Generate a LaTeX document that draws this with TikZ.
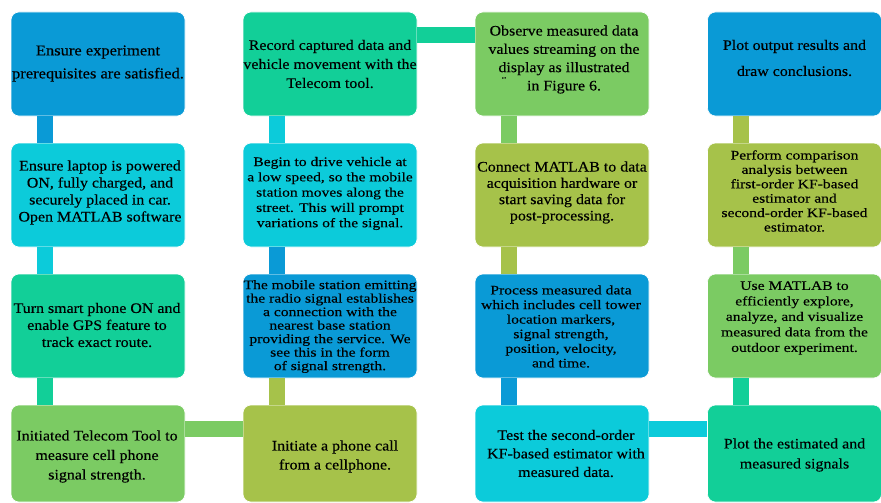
\documentclass[tikz,border=0pt]{standalone}
\usepackage{fontspec}
\setmainfont{Liberation Serif}[FakeStretch=1.1, FakeBold=0.3]
\newfontfamily\ftight{Liberation Serif}[FakeStretch=1.2, FakeBold=0.3]
\definecolor{cblue}{HTML}{0A9AD6}
\definecolor{ccyan}{HTML}{0CCBDA}
\definecolor{cteal}{HTML}{12CF98}
\definecolor{cgreen}{HTML}{7BCB63}
\definecolor{colive}{HTML}{A6C24A}
\begin{document}
\begin{tikzpicture}[x=1pt,y=-1pt,
  box/.style={rectangle, rounded corners=8pt, minimum width=174pt, minimum height=104pt, draw=white, line width=0.6pt, inner sep=0pt},
  lowbox/.style={box, minimum height=97pt},
  txt/.style={align=center, inner sep=0pt, text=black},
  conn/.style={line width=16pt, line cap=butt}
]
\useasboundingbox[fill=white] (0,0) rectangle (881,503);
% boxes
\node[box, fill=cblue]  (A) at (98,64) {};
\node[box, fill=ccyan]  (B) at (98,195) {};
\node[box, fill=cteal]  (C) at (98,326) {};
\node[lowbox, fill=cgreen] (D) at (98,453.5) {};
\node[box, fill=cteal]  (E) at (330,64) {};
\node[box, fill=ccyan]  (F) at (330,195) {};
\node[box, fill=cblue]  (G) at (330,326) {};
\node[lowbox, fill=colive] (H) at (330,453.5) {};
\node[box, fill=cgreen] (I) at (562,64) {};
\node[box, fill=colive] (J) at (562,195) {};
\node[box, fill=cblue]  (K) at (562,326) {};
\node[lowbox, fill=ccyan] (L) at (562,453.5) {};
\node[box, fill=cblue]  (M) at (794.5,64) {};
\node[box, fill=colive] (N) at (794.5,195) {};
\node[box, fill=cgreen] (O) at (794.5,326) {};
\node[lowbox, fill=cteal] (P) at (794.5,453.5) {};
% connectors
\draw[conn, cblue]  ([xshift=34.5pt]A.south west) -- ([xshift=34.5pt]B.north west);
\draw[conn, ccyan]  ([xshift=34.5pt]B.south west) -- ([xshift=34.5pt]C.north west);
\draw[conn, cteal]  ([xshift=34.5pt]C.south west) -- ([xshift=34.5pt]D.north west);
\draw[conn, cgreen] ([yshift=-24pt]D.north east) -- ([yshift=-24pt]H.north west);
\draw[conn, colive] ([xshift=34.5pt]H.north west) -- ([xshift=34.5pt]G.south west);
\draw[conn, cblue]  ([xshift=34.5pt]G.north west) -- ([xshift=34.5pt]F.south west);
\draw[conn, ccyan]  ([xshift=34.5pt]F.north west) -- ([xshift=34.5pt]E.south west);
\draw[conn, cteal]  ([yshift=-23.5pt]E.north east) -- ([yshift=-23.5pt]I.north west);
\draw[conn, cgreen] ([xshift=34.5pt]I.south west) -- ([xshift=34.5pt]J.north west);
\draw[conn, colive] ([xshift=34.5pt]J.south west) -- ([xshift=34.5pt]K.north west);
\draw[conn, cblue]  ([xshift=34.5pt]K.south west) -- ([xshift=34.5pt]L.north west);
\draw[conn, ccyan]  ([yshift=-24pt]L.north east) -- ([yshift=-24pt]P.north west);
\draw[conn, cteal]  ([xshift=34pt]P.north west) -- ([xshift=34pt]O.south west);
\draw[conn, cgreen] ([xshift=34pt]O.north west) -- ([xshift=34pt]N.south west);
\draw[conn, colive] ([xshift=34pt]N.north west) -- ([xshift=34pt]M.south west);
% texts
\node[txt, font=\fontsize{15}{23}\selectfont] (At) at (98,63.5) {Ensure experiment\\prerequisites are satisfied.};
\node[txt, font=\fontsize{14.5}{17}\selectfont] (Bt) at (100,192.5) {Ensure laptop is powered\\ON, fully charged, and\\securely placed in car.\\Open MATLAB software};
\node[txt, font=\fontsize{14.5}{17}\selectfont] (Ct) at (97,325) {Turn smart phone ON and\\enable GPS feature to\\track exact route.};
\node[txt, font=\fontsize{14.5}{19.5}\selectfont] (Dt) at (97,456.5) {Initiated Telecom Tool to\\measure cell phone\\signal strength.};
\node[txt, font=\fontsize{14.5}{19}\selectfont] (Et) at (330,64) {Record captured data and\\vehicle movement with the\\Telecom tool.};
\node[txt, font=\ftight\fontsize{13}{15.3}\selectfont] (Ft) at (330,193.5) {Begin to drive vehicle at\\a low speed, so the mobile\\station moves along the\\street. This will prompt\\variations of the signal.};
\node[txt, font=\ftight\fontsize{13}{13.5}\selectfont] (Gt) at (330,326.5) {The mobile station emitting\\the radio signal establishes\\a connection with the\\nearest base station\\providing the service. We\\see this in the form\\of signal strength.};
\node[txt, font=\fontsize{14.5}{19}\selectfont] (Ht) at (335,456.5) {Initiate a phone call\\from a cellphone.};
\node[txt, font=\fontsize{14.5}{18.3}\selectfont] (It) at (564,59.5) {Observe measured data\\values streaming on the\\display as illustrated\\in Figure 6.};
\node[txt, font=\fontsize{5}{5}\selectfont] (Ia) at (504,79) {'{}'{}'};
\node[txt, font=\fontsize{14.5}{16.3}\selectfont] (Jt) at (562,192.5) {Connect MATLAB to data\\acquisition hardware or\\start saving data for\\post-processing.};
\node[txt, font=\ftight\fontsize{13}{14.6}\selectfont] (Kt) at (561,326.5) {Process measured data\\which includes cell tower\\location markers,\\signal strength,\\position, velocity,\\and time.};
\node[txt, font=\fontsize{14.5}{18.5}\selectfont] (Lt) at (566,453.5) {Test the second-order\\KF-based estimator with\\measured data.};
\node[txt, font=\fontsize{14.5}{26}\selectfont] (Mt) at (794.5,58) {Plot output results and\\draw conclusions.};
\node[txt, font=\ftight\fontsize{13}{14.4}\selectfont] (Nt) at (794.5,191) {Perform comparison\\analysis between\\first-order KF-based\\estimator and\\second-order KF-based\\estimator.};
\node[txt, font=\ftight\fontsize{13}{15.5}\selectfont] (Ot) at (794.5,318) {Use MATLAB to\\efficiently explore,\\analyze, and visualize\\measured data from the\\outdoor experiment.};
\node[txt, font=\fontsize{14.5}{20}\selectfont] (Pt) at (794.5,455) {Plot the estimated and\\measured signals};
\end{tikzpicture}
\end{document}
